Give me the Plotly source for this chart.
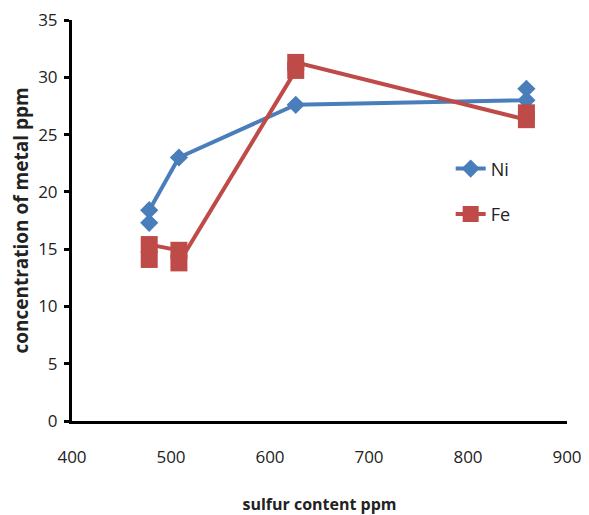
import plotly.graph_objects as go

# Data
ni_x = [478, 478, 508, 626, 859, 859]
ni_y = [17.3, 18.4, 23.0, 27.6, 28.0, 29.0]
fe_x = [478, 478, 508, 508, 626, 626, 859, 859]
fe_y = [14.1, 15.4, 14.9, 13.8, 30.6, 31.3, 26.3, 26.9]

x_ticks = [400, 500, 600, 700, 800, 900]
y_ticks = [0, 5, 10, 15, 20, 25, 30, 35]

FONT = "Open Sans, Noto Sans, sans-serif"

fig = go.Figure()
fig.add_trace(go.Scatter(
    x=ni_x, y=ni_y, mode="lines+markers", name="Ni", legendgroup="ni",
    line=dict(color="#4A7EBB", width=4),
    marker=dict(symbol="diamond", size=14, color="#4A7EBB"),
))
fig.add_trace(go.Scatter(
    x=fe_x, y=fe_y, mode="lines+markers", name="Fe", legendgroup="fe",
    line=dict(color="#BE4B48", width=4),
    marker=dict(symbol="square", size=17, color="#BE4B48"),
))

# page body has an 8px margin, so the figure is sized/offset to compensate
fig.update_layout(
    width=581, height=507,
    margin=dict(l=64, r=22, t=12, b=94),
    plot_bgcolor="white", paper_bgcolor="white",
    font=dict(family=FONT, size=17, color="#222"),
    showlegend=True,
    legend=dict(x=0.765, y=0.675, xanchor="left", yanchor="top",
                font=dict(size=18, color="#222"), tracegroupgap=19,
                bgcolor="rgba(0,0,0,0)"),
    xaxis=dict(
        range=[400, 900], tickvals=x_ticks, ticktext=[str(v) for v in x_ticks],
        showgrid=False, zeroline=False, showline=True, linecolor="black", linewidth=3,
        ticks="", tickfont=dict(size=17), automargin=False, ticklabelstandoff=19,
        ticklabeloverflow="allow",
        title=dict(text="<b>sulfur content ppm</b>", font=dict(size=16), standoff=50),
    ),
    yaxis=dict(
        range=[0, 35], tickvals=y_ticks, ticktext=[str(v) for v in y_ticks],
        showgrid=False, zeroline=False, showline=True, linecolor="black", linewidth=3,
        ticks="outside", ticklen=5, tickwidth=3, tickcolor="black",
        tickfont=dict(size=17), automargin=False, ticklabelstandoff=3,
        ticklabeloverflow="allow",
        title=dict(text="<b>concentration of metal ppm</b>", font=dict(size=19), standoff=17),
    ),
)

fig.write_html("out.html")
